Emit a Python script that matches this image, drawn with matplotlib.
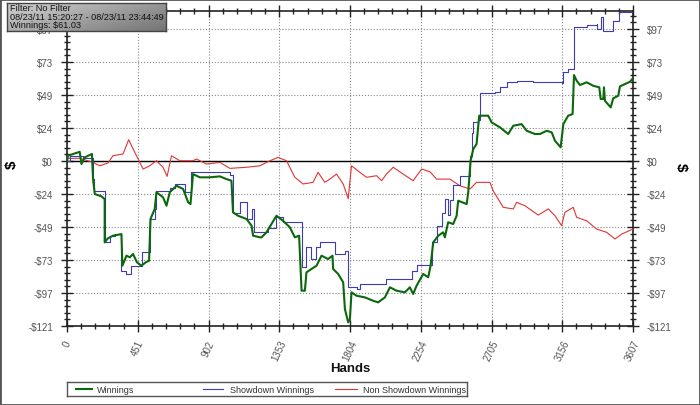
import numpy as np
import matplotlib
matplotlib.use('Agg')
import matplotlib.pyplot as plt
from matplotlib.ticker import AutoMinorLocator, FixedLocator
from matplotlib.patches import Rectangle
from matplotlib.lines import Line2D

plt.rcParams['font.family'] = ['Liberation Sans', 'DejaVu Sans']

# chart data (hands, dollars)
red_hands = [0, 6, 81, 166, 208, 261, 293, 357, 393, 432, 485, 527, 570, 612, 638, 666, 719,
             803, 825, 889, 974, 1038, 1144, 1229, 1293, 1345, 1399, 1452, 1505, 1568, 1600,
             1643, 1675, 1718, 1760, 1792, 1813, 1866, 1909, 1973, 2005, 2036, 2079, 2142,
             2206, 2260, 2313, 2355, 2440, 2504, 2568, 2610, 2695, 2716, 2780, 2844, 2865,
             2918, 3003, 3067, 3110, 3152, 3173, 3226, 3248, 3312, 3375, 3439, 3492, 3535, 3607]
red_vals = [0, 2.0, 2.0, -1.0, -3.5, -1.5, 3.9, 5.2, 15.7, 6.4, -5.9, -3.5, 0.2, -4.6, -11.3,
            3.9, 0.2, 0.2, 1.5, -2.2, -1.0, -5.4, -4.6, -3.5, 0.2, 2.7, 0.2, -12.0, -16.9,
            -15.7, -8.3, -15.7, -13.3, -9.6, -16.9, -27.8, -3.5, -8.3, -12.0, -10.8, -14.5,
            -9.6, -4.6, -9.6, -14.5, -5.9, -7.9, -13.3, -13.3, -18.2, -20.6, -15.7, -15.7,
            -21.9, -34.1, -35.3, -30.4, -32.9, -39.8, -35.3, -40.3, -47.6, -37.8, -34.1,
            -41.5, -44.0, -50.1, -52.5, -57.4, -53.8, -50.1]

blue_hands = [0, 20, 100, 163, 172, 240, 272, 304, 347, 379, 411, 475, 527, 560, 570, 655,
              687, 750, 790, 1040, 1058, 1101, 1144, 1182, 1190, 1282, 1335, 1377, 1495, 1526,
              1558, 1590, 1611, 1707, 1771, 1792, 1845, 1866, 2036, 2196, 2228, 2323, 2355,
              2387, 2410, 2425, 2440, 2461, 2504, 2568, 2578, 2589, 2621, 2632, 2727, 2759,
              2802, 2865, 2971, 3120, 3152, 3163, 3194, 3231, 3312, 3375, 3379, 3403, 3418,
              3477, 3520, 3607]
blue_vals = [0, 4, 2.5, -13, -22, -60, -55, -54, -81, -83, -77, -67, -43, -35, -22, -20, -17,
             -23, -8.3, -10.3, -38, -30, -43, -35, -52.5, -49, -41.5, -45, -78, -63.5, -72,
             -63.5, -60, -68.5, -66, -93, -94.3, -90.6, -87, -81, -76.6, -60, -47.6, -38, -28,
             -40, -29, -18, -11, 4, 21, 28.5, 30, 50, 50.6, 54.3, 58, 59, 58.4, 58, 57.4, 65.3,
             67.7, 98.5, 100, 101, 97.2, 105.8, 96, 103.3, 109.9, 108.2]

green_hands = [0, 6, 81, 92, 113, 159, 166, 177, 219, 240, 240, 261, 293, 347, 353, 379, 400,
               421, 446, 474, 502, 523, 532, 559, 570, 612, 634, 655, 698, 740, 772, 787, 803,
               846, 910, 974, 1016, 1048, 1058, 1090, 1144, 1176, 1186, 1229, 1240, 1271, 1335,
               1377, 1420, 1452, 1479, 1495, 1516, 1526, 1558, 1590, 1622, 1664, 1692, 1696,
               1728, 1760, 1771, 1792, 1803, 1813, 1845, 1898, 1951, 1983, 2026, 2058, 2100,
               2153, 2185, 2206, 2228, 2270, 2302, 2317, 2334, 2366, 2397, 2408, 2429, 2461,
               2483, 2493, 2547, 2557, 2572, 2589, 2610, 2627, 2684, 2706, 2759, 2812, 2844,
               2897, 2929, 2982, 3014, 3057, 3089, 3110, 3146, 3163, 3194, 3222, 3231, 3248,
               3269, 3312, 3354, 3392, 3401, 3418, 3422, 3428, 3465, 3481, 3513, 3524, 3556,
               3588, 3607]
green_vals = [0, 3.9, 6.8, -2.2, 2.7, 5.2, -13.3, -24.3, -26.0, -28.0, -59.9, -56.9, -55.0,
              -53.8, -77.1, -69.7, -70.9, -68.5, -74.6, -77.1, -74.6, -73.4, -42.7, -35.3,
              -23.0, -26.7, -32.9, -23.0, -18.2, -20.6, -30.4, -31.7, -9.6, -12.0, -12.0,
              -11.3, -13.3, -14.5, -37.8, -40.3, -42.7, -47.6, -55.0, -56.2, -56.2, -52.5,
              -40.3, -44.0, -48.8, -56.2, -55.0, -95.5, -95.5, -82.0, -79.5, -77.1, -69.7,
              -72.2, -69.7, -79.5, -83.2, -89.3, -109.0, -118.8, -116.3, -96.7, -99.2, -100.4,
              -102.9, -104.1, -100.4, -93.0, -95.5, -96.7, -93.0, -97.9, -91.8, -83.2, -85.6,
              -77.1, -59.9, -55.0, -52.5, -56.2, -45.1, -46.4, -40.3, -29.2, -31.7, -23.0,
              0.2, 8.8, 12.5, 33.4, 33.4, 28.5, 24.8, 19.9, 26.0, 27.2, 22.3, 19.9, 19.9,
              22.3, 21.1, 14.9, 10.1, 27.2, 33.4, 34.6, 63.3, 59.1, 56.0, 58.0, 55.4, 54.3,
              45.7, 45.7, 54.3, 44.4, 39.5, 46.2, 48.1, 55.0, 56.7, 58.4, 61.03]

x_tick_labels = ['0', '451', '902', '1353', '1804', '2254', '2705', '3156', '3607']
y_tick_vals = [-121.5, -97.2, -72.9, -48.6, -24.3, 0, 24.3, 48.6, 72.9, 97.2]
y_tick_labels = ['-\\$121', '-\\$97', '-\\$73', '-\\$49', '-\\$24', '\\$0', '\\$24', '\\$49',
                 '\\$73', '\\$97']
info_lines = ['Filter: No Filter', '08/23/11 15:20:27 - 08/23/11 23:44:49',
              'Winnings: \\$61.03']
legend_names = ['Winnings', 'Showdown Winnings', 'Non Showdown Winnings']

W, H = 700, 406
fig = plt.figure(figsize=(7, 4.06), dpi=100)
fig.patch.set_facecolor('white')
ax = fig.add_axes([67 / W, 1 - 327 / H, 566 / W, 315 / H])

green = '#0b680b'
blue = '#3c3cb4'
red = '#e03434'

ax.axhline(0, color='black', lw=1.0, zorder=2)
ax.plot(red_hands, red_vals, color=red, lw=0.8, zorder=3)
ax.plot(blue_hands, blue_vals, color=blue, lw=0.8, drawstyle='steps-post', zorder=4)
ax.plot(green_hands, green_vals, color=green, lw=1.5, zorder=5)

ax.set_xlim(0, 3607)
ax.set_ylim(-121.5, 110.5)
xt = np.linspace(0, 3607, len(x_tick_labels))
ax.xaxis.set_major_locator(FixedLocator(xt))
ax.set_xticklabels(x_tick_labels, rotation=65, ha='center', va='top')
ax.yaxis.set_major_locator(FixedLocator(y_tick_vals))
ax.set_yticklabels(y_tick_labels)
ax.xaxis.set_minor_locator(AutoMinorLocator(5))
ax.yaxis.set_minor_locator(AutoMinorLocator(5))
ax.tick_params(which='both', direction='inout', top=True, right=True, labelright=True,
               colors='#222222', labelcolor='#555555', labelsize=7)
ax.tick_params(which='major', length=8, width=1)
ax.tick_params(which='minor', length=5, width=1)
ax.tick_params(axis='y', pad=6)
ax.tick_params(axis='x', pad=5)
ax.grid(True, which='major', color='#888888', ls=':', lw=0.8)
for s in ax.spines.values():
    s.set_color('#222222')
    s.set_linewidth(1.2)

fig.text(350 / W, 1 - 369 / H, 'Hands', ha='center', va='center', fontsize=9.5,
         fontweight='bold', color='#111111')
fig.text(12 / W, 1 - 165 / H, '\\$', ha='center', va='center', fontsize=11,
         fontweight='bold', rotation=90)
fig.text(681 / W, 1 - 167 / H, '\\$', ha='center', va='center', fontsize=11,
         fontweight='bold', rotation=270)

# info box with gray gradient
ib = fig.add_axes([7 / W, 1 - 32 / H, 159 / W, 28 / H])
grad = np.linspace(0, 1, 100)[None, :] + np.linspace(0, 0.6, 20)[:, None]
ib.imshow(grad, cmap='Greys', vmin=-1.5, vmax=3.5, aspect='auto', extent=(0, 1, 0, 1))
ib.set_xticks([])
ib.set_yticks([])
for s in ib.spines.values():
    s.set_color('#444444')
    s.set_linewidth(1)
for i, line in enumerate(info_lines):
    ib.text(0.02, 0.84 - i * 0.31, line, fontsize=6.6, color='#111111', va='center',
            transform=ib.transAxes)

# legend box
lg = fig.add_axes([67 / W, 1 - 397 / H, 400 / W, 14 / H])
lg.set_xlim(67, 467)
lg.set_ylim(0, 1)
lg.set_xticks([])
lg.set_yticks([])
for s in lg.spines.values():
    s.set_color('#555555')
    s.set_linewidth(1)
for (x0, x1, xt0), c, lw_, name in zip([(76, 92, 97), (203, 223, 230), (335, 357, 363)],
                                        [green, blue, red], [1.5, 0.8, 0.8], legend_names):
    lg.add_line(Line2D([x0, x1], [0.5, 0.5], color=c, lw=lw_))
    lg.text(xt0, 0.45, name, fontsize=6.5, va='center', color='#333333')

fig.patches.append(Rectangle((0, 0), 1, 1, transform=fig.transFigure, fill=False,
                             edgecolor='#555555', lw=2))

fig.savefig('out.png', dpi=100)
